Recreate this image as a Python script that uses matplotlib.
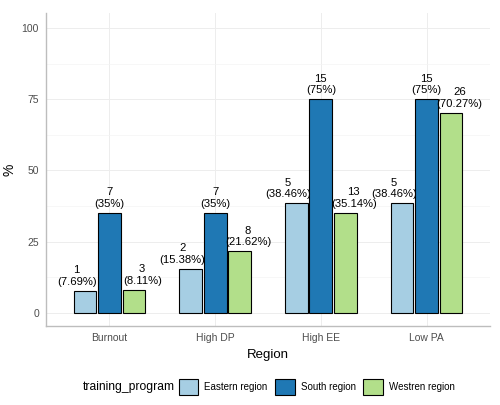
import numpy as np
import matplotlib
matplotlib.use('Agg')
import matplotlib.pyplot as plt
from matplotlib.patches import Patch
from matplotlib.ticker import MultipleLocator

regions = ['Burnout', 'High DP', 'High EE', 'Low PA']
programs = ['Eastern region', 'South region', 'Westren region']
counts = {
    'Eastern region': [1, 2, 5, 5],
    'South region': [7, 7, 15, 15],
    'Westren region': [3, 8, 13, 26],
}
percents = {
    'Eastern region': [7.69, 15.38, 38.46, 38.46],
    'South region': [35, 35, 75, 75],
    'Westren region': [8.11, 21.62, 35.14, 70.27],
}
colors = ['#A6CEE3', '#1F78B4', '#B2DF8A']

plt.rcParams['font.family'] = ['Liberation Sans', 'DejaVu Sans']

fig = plt.figure(figsize=[5, 4.05], dpi=100)
ax = fig.add_axes([0.092, 0.195, 0.888, 0.773])

x = np.arange(len(regions))
# bars and their labels are dodged by different widths
bar_offsets = [-0.232, 0, 0.232]
text_offsets = [-0.31, 0, 0.31]
width = 0.215

for i, prog in enumerate(programs):
    ax.bar(x + bar_offsets[i], percents[prog], width, color=colors[i],
           edgecolor='black', linewidth=0.8, zorder=3)
    for xi, n, p in zip(x, counts[prog], percents[prog]):
        lab = '%d\n(%s%%)' % (n, ('%g' % p))
        ax.annotate(lab, (xi + text_offsets[i], p),
                    xytext=(0, 3), textcoords='offset points',
                    ha='center', va='bottom', fontsize=8.1,
                    linespacing=1.2, color='black', zorder=4)

ax.set_xlim(-0.6, 3.6)
ax.set_ylim(-4.6, 105.3)
ax.set_xticks(x)
ax.set_xticklabels(regions)
ax.yaxis.set_major_locator(MultipleLocator(25))
ax.yaxis.set_minor_locator(MultipleLocator(12.5))
ax.set_yticks([0, 25, 50, 75, 100])
ax.grid(which='major', color='#EDEDED', linewidth=0.7, zorder=0)
ax.grid(which='minor', axis='y', color='#F4F4F4', linewidth=0.5, zorder=0)
ax.tick_params(which='both', length=0, labelsize=7.5, colors='#4D4D4D', pad=5)
for s in ['top', 'right']:
    ax.spines[s].set_visible(False)
for s in ['left', 'bottom']:
    ax.spines[s].set_color('#BDBDBD')
    ax.spines[s].set_linewidth(1.0)

ax.set_xlabel('Region', fontsize=9.5, labelpad=4)
ax.set_ylabel('%', fontsize=10, labelpad=4)

fig.text(83 / 500, 1 - 387 / 405, 'training_program', fontsize=8.7,
         ha='left', va='center')
handles = [Patch(facecolor=colors[i], edgecolor='black', linewidth=0.8,
                 label=programs[i]) for i in range(3)]
fig.legend(handles=handles, loc='center left', ncol=3,
           bbox_to_anchor=(179 / 500, 1 - 387 / 405), frameon=False,
           fontsize=7, handlelength=2.0, handleheight=2.0,
           columnspacing=0.8, handletextpad=0.6, borderaxespad=0,
           borderpad=0)

plt.savefig('out.png', dpi=100)
